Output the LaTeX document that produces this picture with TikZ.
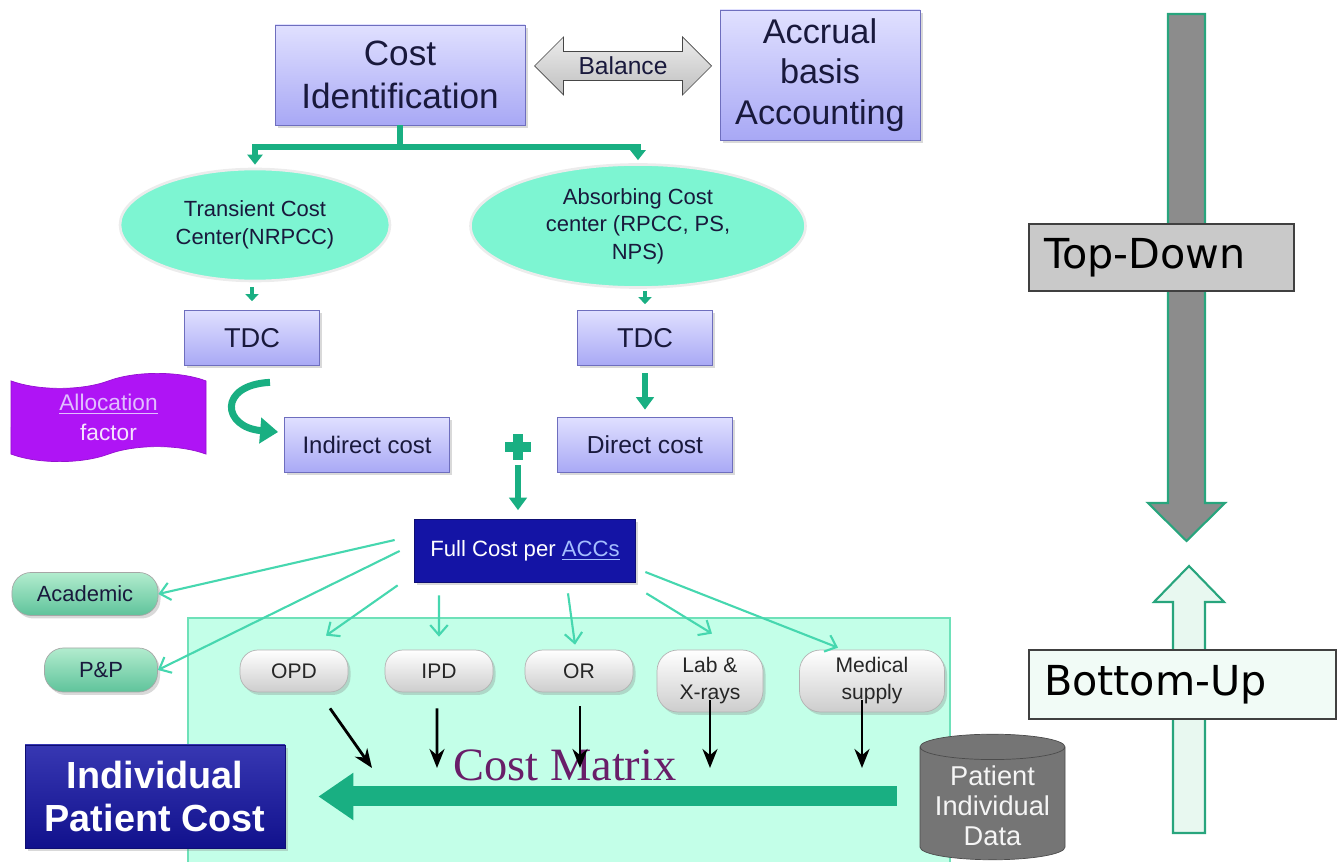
\documentclass[tikz,border=0pt]{standalone}
\usepackage{fontspec}
\setmainfont{Liberation Sans}
\newfontfamily\verdana{DejaVu Sans}
\newfontfamily\timesfont{Liberation Serif}
\usetikzlibrary{shapes.geometric,shapes.symbols,shapes.arrows,arrows.meta,shadows}

\definecolor{lavtop}{RGB}{224,224,255}
\definecolor{lavbot}{RGB}{168,168,245}
\definecolor{lavline}{RGB}{110,110,190}
\definecolor{navytext}{RGB}{25,25,60}
\definecolor{flowgreen}{RGB}{25,175,130}
\definecolor{thingreen}{RGB}{70,215,175}
\definecolor{aqua}{RGB}{125,245,210}
\definecolor{areafill}{RGB}{195,255,232}
\definecolor{arealine}{RGB}{110,225,185}
\definecolor{deepblue}{RGB}{20,20,165}
\definecolor{pillbot}{RGB}{205,205,205}
\definecolor{mintop}{RGB}{178,236,206}
\definecolor{minbot}{RGB}{95,195,155}
\definecolor{allocpurple}{RGB}{175,20,245}
\definecolor{alloclink}{RGB}{225,190,255}
\definecolor{linkblue}{RGB}{165,190,255}
\definecolor{matrixtext}{RGB}{105,30,105}
\definecolor{tdgray}{RGB}{140,140,140}
\definecolor{tdline}{RGB}{40,165,125}
\definecolor{bulight}{RGB}{232,248,240}

\tikzset{
  softshadow/.style={drop shadow={opacity=0.3,shadow xshift=0.05cm,shadow yshift=-0.06cm}},
  lavbox/.style={draw=lavline, top color=lavtop, bottom color=lavbot, text=navytext, align=center, inner sep=2pt, softshadow},
  costcenter/.style={ellipse, draw=white!85!gray, line width=1.5pt, fill=aqua, text=navytext, align=center, font=\fontsize{12.5}{16}\selectfont},
  pill/.style={draw=gray!60, rounded corners=0.36cm, top color=white, bottom color=pillbot, text=black!85, align=center, font=\fontsize{12}{15.4}\selectfont, softshadow},
  sidepill/.style={draw=gray!70, rounded corners=0.38cm, top color=mintop, bottom color=minbot, text=navytext, font=\fontsize{12.5}{15}\selectfont, softshadow},
  darkbox/.style={draw=deepblue!70!black, fill=deepblue, text=white, align=center, softshadow},
  bracket/.style={flowgreen, line width=3.5pt},
  greenarrow/.style={flowgreen, line width=3pt, -{Triangle[length=0.25cm,width=0.35cm]}},
  stubarrow/.style={flowgreen, line width=2.5pt, -{Triangle[length=0.14cm,width=0.26cm]}},
  thinarrow/.style={thingreen, line width=1.2pt, -{Straight Barb[length=0.2cm,width=0.35cm]}},
  blackarrow/.style={black, line width=1.6pt, -{Stealth[length=0.38cm,width=0.3cm]}},
  bigarrow/.style={flowgreen, line width=0.4cm, -{Triangle[length=0.7cm,width=0.9cm]}},
  sidelabel/.style={draw=black!75, line width=0.8pt, font=\verdana\fontsize{23.5}{26}\selectfont, align=left, inner xsep=0.3cm}
}

\begin{document}
\begin{tikzpicture}
  \useasboundingbox (0,0) rectangle (26.86,-17.24);
  \clip (0,0) rectangle (26.86,-17.24);

  % Cost matrix area
  \draw[arealine, fill=areafill, line width=1pt] (3.76,-12.36) rectangle (19.0,-17.6);

  % Top part
  \node[lavbox, minimum width=5cm, minimum height=2cm, font=\fontsize{20}{24.5}\selectfont] (costid) at (8,-1.5) {Cost\\Identification};
  \node[lavbox, minimum width=4cm, minimum height=2.6cm, font=\fontsize{19.5}{23}\selectfont] (accrual) at (16.4,-1.5) {Accrual\\basis\\Accounting};
  \node[double arrow, draw=gray!55!black, top color=gray!15, bottom color=gray!50, minimum height=3.54cm, minimum width=1.16cm, double arrow head extend=0.22cm, inner sep=1pt, font=\fontsize{14}{14}\selectfont, text=navytext] (balance) at (12.46,-1.32) {Balance};

  \node[costcenter, minimum width=5.4cm, minimum height=2.24cm] (transient) at (5.1,-4.5) {Transient Cost\\Center(NRPCC)};
  \node[costcenter, minimum width=6.7cm, minimum height=2.36cm, font=\fontsize{12.5}{15.6}\selectfont] (absorbing) at (12.76,-4.52) {Absorbing Cost\\center (RPCC, PS,\\NPS)};

  \node[lavbox, minimum width=2.7cm, minimum height=1.1cm, font=\fontsize{15.5}{18}\selectfont] (tdcleft) at (5.04,-6.76) {TDC};
  \node[lavbox, minimum width=2.7cm, minimum height=1.1cm, font=\fontsize{15.5}{18}\selectfont] (tdcright) at (12.9,-6.76) {TDC};

  \node[tape, tape bend top=in and out, tape bend bottom=in and out, tape bend height=0.3cm, draw=allocpurple!85!black, fill=allocpurple, minimum width=3.9cm, minimum height=1.7cm, align=center, font=\fontsize{12.9}{17}\selectfont] (alloc) at (2.17,-8.35) {\textcolor{alloclink}{\underline{Allocation}}\\\textcolor{white!88!allocpurple}{factor}};
  \node[lavbox, minimum width=3.3cm, minimum height=1.1cm, font=\fontsize{13.6}{16}\selectfont] (indirect) at (7.34,-8.9) {Indirect cost};
  \node[lavbox, minimum width=3.5cm, minimum height=1.1cm, font=\fontsize{14}{16}\selectfont] (direct) at (12.9,-8.9) {Direct cost};
  \node[fill=flowgreen, inner sep=0, minimum width=0.52cm, minimum height=0.2cm] (plus) at (10.36,-8.94) {};
  \node[fill=flowgreen, inner sep=0, minimum width=0.2cm, minimum height=0.52cm] (plusv) at (plus) {};

  \node[darkbox, minimum width=4.42cm, minimum height=1.26cm, font=\fontsize{12.6}{15}\selectfont] (full) at (10.5,-11.02) {Full Cost per \textcolor{linkblue}{\underline{ACCs}}};

  % Cost centers
  \node[sidepill, minimum width=2.92cm, minimum height=0.86cm] (academic) at (1.7,-11.88) {Academic};
  \node[sidepill, minimum width=2.26cm, minimum height=0.88cm] (pp) at (2.02,-13.4) {P\&P};
  \node[pill, minimum width=2.16cm, minimum height=0.84cm] (opd) at (5.88,-13.42) {OPD};
  \node[pill, minimum width=2.16cm, minimum height=0.84cm] (ipd) at (8.78,-13.42) {IPD};
  \node[pill, minimum width=2.16cm, minimum height=0.84cm] (or) at (11.58,-13.42) {OR};
  \node[pill, minimum width=2.12cm, minimum height=1.24cm, rounded corners=0.42cm] (lab) at (14.2,-13.62) {Lab \&\\X-rays};
  \node[pill, minimum width=2.9cm, minimum height=1.24cm, rounded corners=0.42cm] (medical) at (17.44,-13.62) {Medical\\supply};

  \node[font=\timesfont\fontsize{26.4}{30}\selectfont, text=matrixtext] (costmatrix) at (11.3,-15.3) {Cost Matrix};
  \node[darkbox, top color=deepblue!85!white, bottom color=deepblue!85!black, minimum width=5.2cm, minimum height=2.06cm, font=\bfseries\fontsize{21.5}{24}\selectfont] (patientcost) at (3.1,-15.93) {Individual\\Patient Cost};
  \node[cylinder, shape border rotate=90, aspect=0.2, draw=gray!60!black, fill=gray!92!black, minimum width=2.9cm, minimum height=2.4cm, align=center, text=white!92!gray, font=\fontsize{15.5}{17.2}\selectfont] (patientdata) at (19.85,-16.12) {Patient\\Individual\\Data};

  % Arrows
  \draw[bracket] (costid.south) -- ++(0,-0.44) coordinate (split);
  \draw[bracket, -{Triangle[length=0.2cm,width=0.3cm]}] (split) -| ([yshift=0.06cm]transient.north);
  \draw[bracket, -{Triangle[length=0.2cm,width=0.3cm]}] (split) -| ([yshift=0.06cm]absorbing.north);
  \draw[stubarrow, shorten <=0.1cm, shorten >=0.18cm] (tdcleft.north |- transient.south) -- (tdcleft.north);
  \draw[stubarrow, shorten <=0.04cm, shorten >=0.12cm] (tdcright.north |- absorbing.south) -- (tdcright.north);
  \draw[greenarrow, shorten <=0.15cm, shorten >=0.15cm] (tdcright.south) -- (direct.north);
  \draw[flowgreen, line width=4pt, -{Triangle[length=0.36cm,width=0.5cm]}] ([xshift=0.36cm,yshift=-0.33cm]tdcleft.south) .. controls (4.35,-7.7) and (4.45,-8.55) .. ([xshift=-0.12cm,yshift=0.26cm]indirect.west);
  \draw[greenarrow, shorten <=0.1cm, shorten >=0.18cm] (plusv.south) -- (plusv.south |- full.north);

  \draw[thinarrow] ([xshift=-0.39cm,yshift=0.22cm]full.west) -- (academic.east);
  \draw[thinarrow] ([xshift=-0.29cm]full.west) -- (pp.east);
  \draw[thinarrow] ([xshift=-0.33cm,yshift=-0.05cm]full.south west) -- ([xshift=0.64cm,yshift=0.28cm]opd.north);
  \draw[thinarrow] ([xshift=-1.72cm,yshift=-0.25cm]full.south) -- ([yshift=0.26cm]ipd.north);
  \draw[thinarrow] ([xshift=0.86cm,yshift=-0.21cm]full.south) -- ([xshift=-0.08cm,yshift=0.1cm]or.north);
  \draw[thinarrow] ([xshift=0.21cm,yshift=-0.21cm]full.south east) -- ([xshift=0.04cm,yshift=0.32cm]lab.north);
  \draw[thinarrow] ([xshift=0.19cm,yshift=-0.42cm]full.east) -- ([xshift=-0.68cm,yshift=0.04cm]medical.north);

  \coordinate (opdend) at (7.44,-15.36);
  \coordinate (ipdend) at (8.74,-15.36);
  \coordinate (orend) at (11.6,-15.36);
  \coordinate (labend) at (14.2,-15.36);
  \coordinate (medend) at (17.24,-15.36);
  \draw[blackarrow] ([xshift=0.72cm,yshift=-0.32cm]opd.south) -- (opdend);
  \draw[blackarrow] ([xshift=-0.04cm,yshift=-0.32cm]ipd.south) -- (ipdend);
  \draw[blackarrow] ([xshift=0.02cm,yshift=-0.28cm]or.south) -- (orend);
  \draw[blackarrow] ([yshift=0.24cm]lab.south) -- (labend);
  \draw[blackarrow] ([xshift=-0.2cm,yshift=0.24cm]medical.south) -- (medend);

  \draw[bigarrow, shorten <=0.46cm, shorten >=0.66cm] (patientcost.east -| patientdata.west) -- (patientcost.east);

  % Top-Down / Bottom-Up
  \draw[tdline, fill=tdgray, line width=1.2pt] (23.36,-0.28) -- (24.1,-0.28) -- (24.1,-10.06) -- (24.5,-10.06) -- (23.73,-10.82) -- (22.96,-10.06) -- (23.36,-10.06) -- cycle;
  \draw[tdline, fill=bulight, line width=1.2pt] (23.46,-16.66) -- (24.1,-16.66) -- (24.1,-12.04) -- (24.48,-12.04) -- (23.78,-11.32) -- (23.08,-12.04) -- (23.46,-12.04) -- cycle;
  \node[sidelabel, fill=gray!42, minimum width=5.3cm, minimum height=1.34cm, text width=4.7cm] (topdown) at (23.23,-5.15) {Top-Down};
  \node[sidelabel, fill=bulight!60!white, minimum width=6.14cm, minimum height=1.38cm, text width=5.54cm] (bottomup) at (23.65,-13.69) {Bottom-Up};
\end{tikzpicture}
\end{document}
